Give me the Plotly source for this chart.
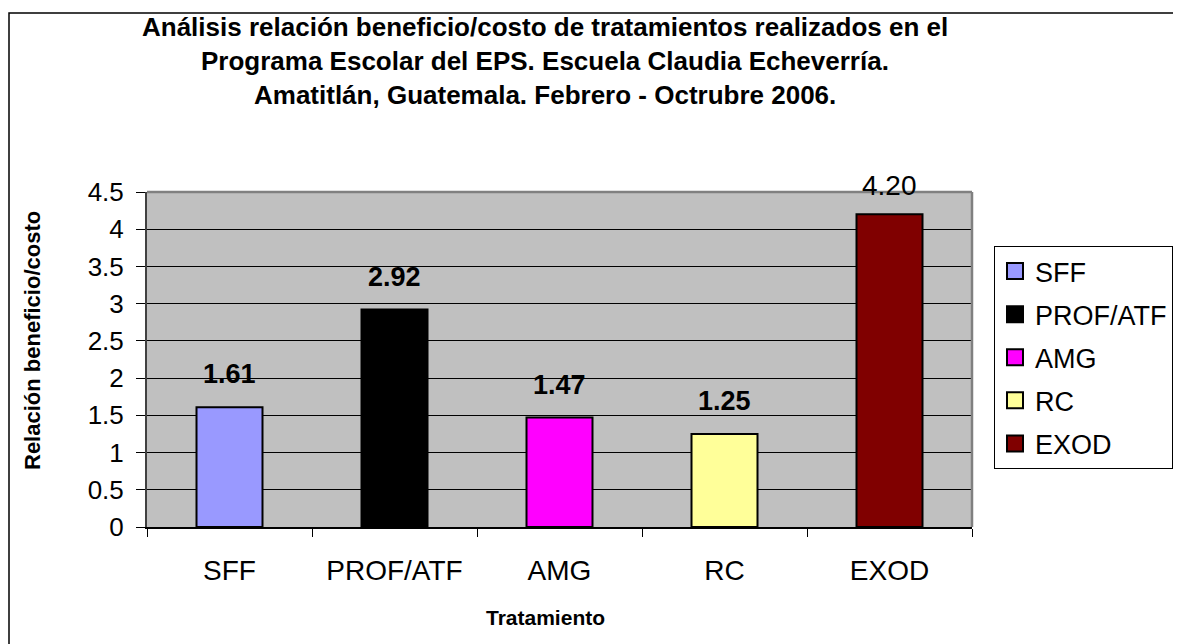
import plotly.graph_objects as go

# ---- data ----
categories = ["SFF", "PROF/ATF", "AMG", "RC", "EXOD"]
values = [1.61, 2.92, 1.47, 1.25, 4.20]
value_labels = ["1.61", "2.92", "1.47", "1.25", "4.20"]
y_ticks = [0, 0.5, 1, 1.5, 2, 2.5, 3, 3.5, 4, 4.5]
y_tick_text = ["0", "0.5", "1", "1.5", "2", "2.5", "3", "3.5", "4", "4.5"]

title_lines = [
    "Análisis relación beneficio/costo de tratamientos realizados en el",
    "Programa Escolar del EPS. Escuela Claudia Echeverría.",
    "Amatitlán, Guatemala. Febrero - Octrubre 2006.",
]
x_title = "Tratamiento"
y_title = "Relación beneficio/costo"

# ---- styles ----
colors = ["#9999FF", "#000000", "#FF00FF", "#FFFF99", "#800000"]
label_bold = [True, True, True, True, False]
FONT = "Liberation Sans, Arial, sans-serif"

OFF = 8  # page body margin offset
W, H = 1181, 644
L, R, T, B = 147 - OFF, 972 - OFF, 192 - OFF, 527 - OFF  # plot area in px (figure coords)
pw, ph = R - L, B - T


def px_x(x):
    return (x - OFF - L) / pw


def px_y(y):
    return (B - (y - OFF)) / ph


fig = go.Figure()

for i, (c, v) in enumerate(zip(categories, values)):
    fig.add_trace(go.Bar(
        x=[c], y=[v], width=0.4,
        marker=dict(color=colors[i], line=dict(color="black", width=2)),
        showlegend=False, hoverinfo="x+y",
    ))

# legend entries (square swatches)
for i, c in enumerate(categories):
    fig.add_trace(go.Scatter(
        x=[None], y=[None], mode="markers", name=c, legendgroup=c,
        marker=dict(symbol="square", size=16, color=colors[i],
                    line=dict(color="black", width=2)),
    ))

annotations = []
for i, (c, v, t) in enumerate(zip(categories, values, value_labels)):
    annotations.append(dict(
        x=c, y=v, xref="x", yref="y", text=(f"<b>{t}</b>" if label_bold[i] else t),
        showarrow=False, yshift=33 if label_bold[i] else 29,
        font=dict(family=FONT, size=27 if label_bold[i] else 28, color="black"),
    ))

title_y = [27, 61, 95]
for line, ty in zip(title_lines, title_y):
    annotations.append(dict(
        x=px_x(545), y=px_y(ty), xref="paper", yref="paper", text=f"<b>{line}</b>",
        showarrow=False, xanchor="center", yanchor="middle",
        font=dict(family=FONT, size=26, color="black"),
    ))

annotations.append(dict(
    x=px_x(545), y=px_y(617), xref="paper", yref="paper", text=f"<b>{x_title}</b>",
    showarrow=False, xanchor="center", yanchor="middle",
    font=dict(family=FONT, size=21, color="black"),
))
annotations.append(dict(
    x=px_x(32), y=px_y(340), xref="paper", yref="paper", text=f"<b>{y_title}</b>",
    showarrow=False, xanchor="center", yanchor="middle", textangle=-90,
    font=dict(family=FONT, size=22, color="black"),
))

shapes = [
    # outer chart border
    dict(type="rect", xref="paper", yref="paper",
         x0=px_x(OFF + 1), y0=px_y(13), x1=px_x(1220), y1=px_y(680),
         line=dict(color="black", width=1.5), fillcolor="rgba(0,0,0,0)", layer="below"),
    # plot area frame top and right (gray)
    dict(type="line", xref="paper", yref="paper", x0=0, x1=1, y0=1, y1=1,
         line=dict(color="#808080", width=2.5), layer="above"),
    dict(type="line", xref="paper", yref="paper", x0=1, x1=1, y0=0, y1=1,
         line=dict(color="#808080", width=2.5), layer="above"),
]

fig.update_layout(
    width=W, height=H,
    margin=dict(l=L, r=W - R, t=T, b=H - B),
    paper_bgcolor="white", plot_bgcolor="#C0C0C0",
    barmode="overlay",
    font=dict(family=FONT, color="black"),
    annotations=annotations, shapes=shapes,
    legend=dict(
        x=px_x(994), y=px_y(246), xanchor="left", yanchor="top",
        bordercolor="black", borderwidth=1, bgcolor="white",
        font=dict(family=FONT, size=27, color="black"),
        tracegroupgap=5, itemclick=False,
    ),
    xaxis=dict(
        categoryorder="array", categoryarray=categories,
        showline=True, linecolor="black", linewidth=1.5,
        ticks="outside", tickson="boundaries", ticklen=8, tickcolor="black",
        tickfont=dict(family=FONT, size=28, color="black"),
        ticklabelstandoff=18, showgrid=False,
    ),
    yaxis=dict(
        range=[0, 4.5], tickvals=y_ticks, ticktext=y_tick_text,
        showline=True, linecolor="#404040", linewidth=2,
        ticks="outside", ticklen=9, tickcolor="black",
        tickfont=dict(family=FONT, size=26, color="black"),
        ticklabelstandoff=7,
        showgrid=True, gridcolor="black", gridwidth=1, zeroline=False,
    ),
)

fig.write_html("out.html")
